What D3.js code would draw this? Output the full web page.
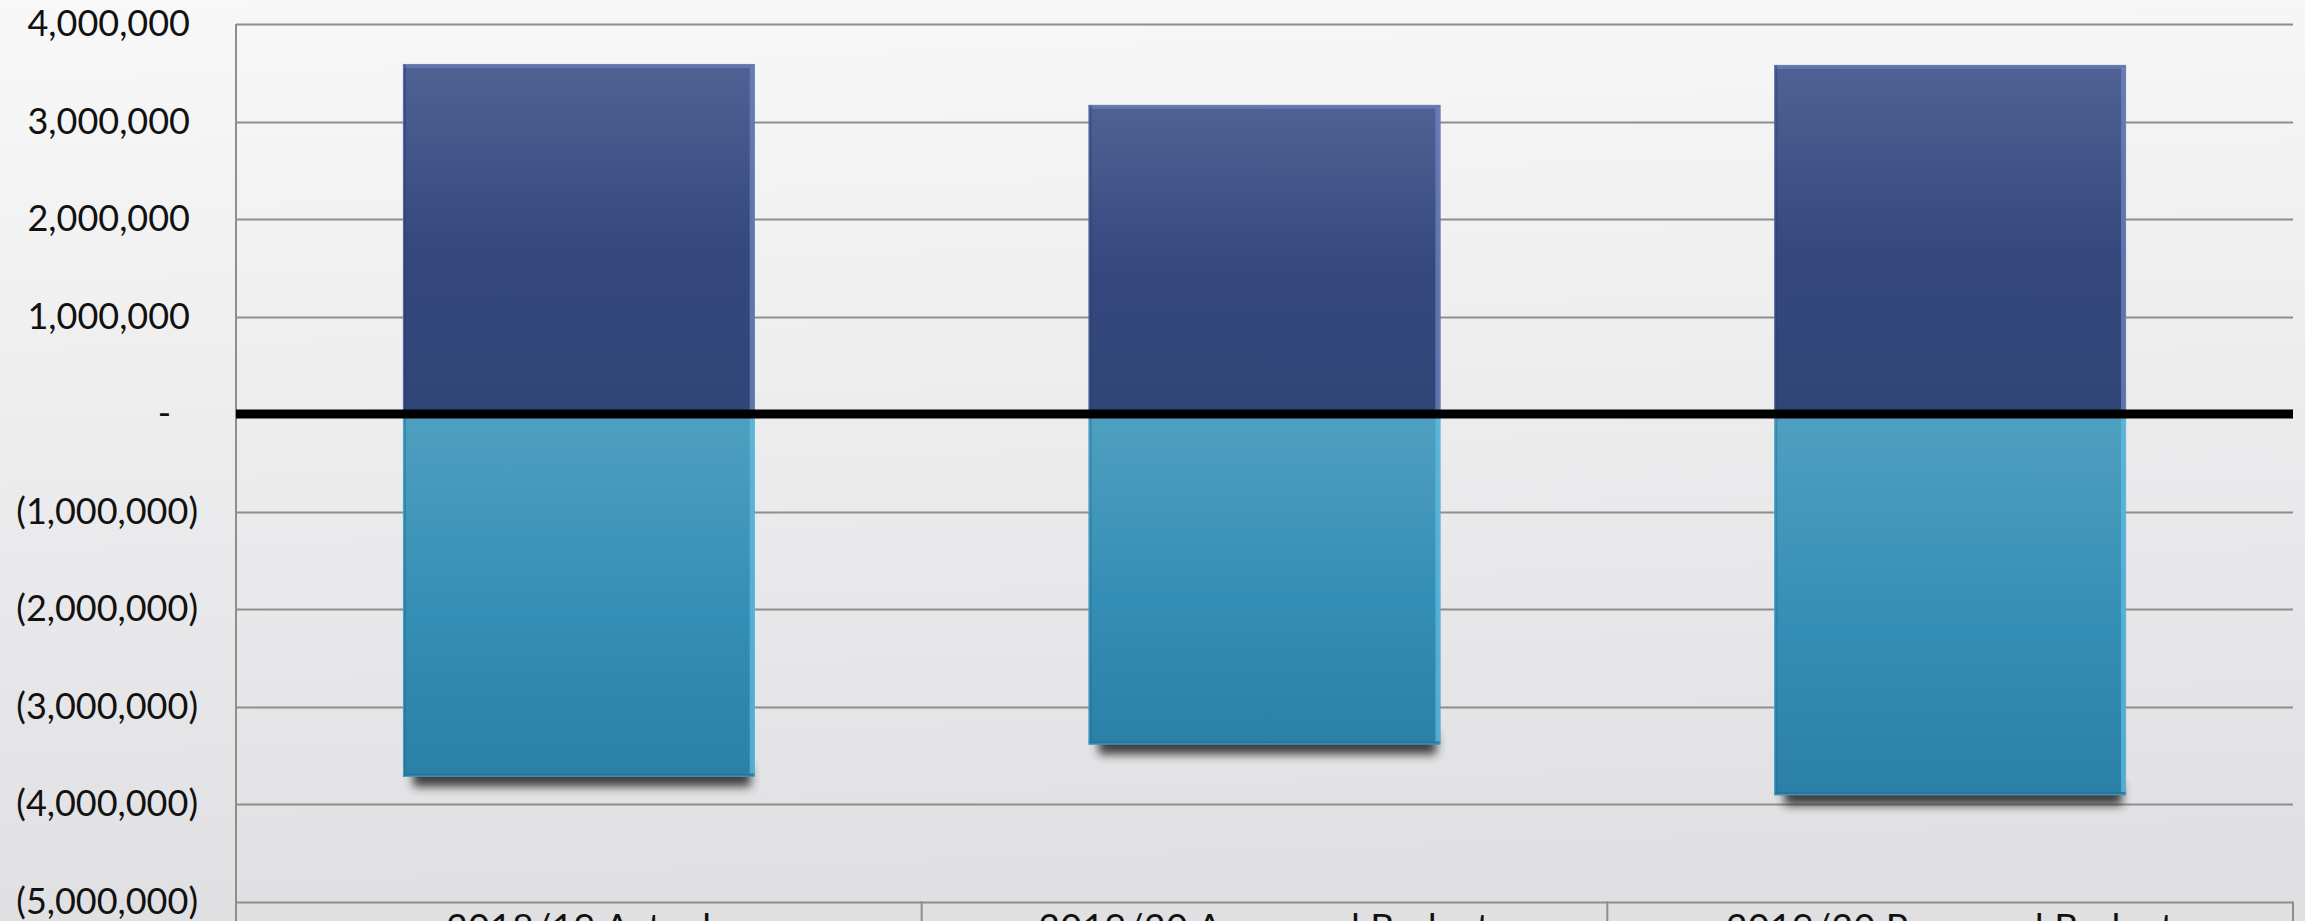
<!DOCTYPE html>
<html>
<head>
<meta charset="utf-8">
<script src="https://cdn.jsdelivr.net/npm/d3@7"></script>
<style>
  html, body { margin: 0; padding: 0; overflow: hidden; }
  svg { display: block; }
</style>
</head>
<body>
<script>
// chart values
var categories = ["2018/19 Actual", "2019/20 Approved Budget", "2019/20 Proposed Budget"];
var positiveValues = [3590000, 3170000, 3580000];
var negativeValues = [-3720000, -3390000, -3910000];
var yTicks = [4000000, 3000000, 2000000, 1000000, 0, -1000000, -2000000, -3000000, -4000000, -5000000];

var W = 2305, H = 921;
var margin = {left: 236, right: 12, top: 24, bottom: 20};

var svg = d3.select("body").append("svg")
    .attr("width", W)
    .attr("height", H);

var defs = svg.append("defs");

var bg = defs.append("linearGradient").attr("id", "bg")
    .attr("x1", "0").attr("y1", "0").attr("x2", "0.08").attr("y2", "1");
bg.append("stop").attr("offset", "0%").attr("stop-color", "#f8f8f8");
bg.append("stop").attr("offset", "100%").attr("stop-color", "#e0e0e3");

var gPos = defs.append("linearGradient").attr("id", "gPos")
    .attr("x1", 0).attr("y1", 0).attr("x2", 0).attr("y2", 1);
gPos.append("stop").attr("offset", "0%").attr("stop-color", "#506194");
gPos.append("stop").attr("offset", "55%").attr("stop-color", "#34487e");
gPos.append("stop").attr("offset", "100%").attr("stop-color", "#304577");

var gNeg = defs.append("linearGradient").attr("id", "gNeg")
    .attr("x1", 0).attr("y1", 0).attr("x2", 0).attr("y2", 1);
gNeg.append("stop").attr("offset", "0%").attr("stop-color", "#4fa0c0");
gNeg.append("stop").attr("offset", "55%").attr("stop-color", "#358eb5");
gNeg.append("stop").attr("offset", "100%").attr("stop-color", "#2b80a7");

var blur = defs.append("filter").attr("id", "shadow")
    .attr("x", "-10%").attr("y", "-60%").attr("width", "120%").attr("height", "220%");
blur.append("feGaussianBlur").attr("stdDeviation", 5);

svg.append("rect").attr("width", W).attr("height", H).attr("fill", "url(#bg)");

var x = d3.scaleBand()
    .domain(categories)
    .range([margin.left, W - margin.right])
    .paddingInner(0.487)
    .paddingOuter(0.2435);

var y = d3.scaleLinear()
    .domain([-5000000, 4000000])
    .range([901.5, margin.top]);

var step = x.step();

// grid lines
svg.append("g")
  .selectAll("line")
  .data(yTicks)
  .join("line")
    .attr("x1", margin.left)
    .attr("x2", W - margin.right)
    .attr("y1", function(d) { return Math.round(y(d)) + 0.5; })
    .attr("y2", function(d) { return Math.round(y(d)) + 0.5; })
    .attr("stroke", "#8e8e8e")
    .attr("stroke-width", 2);

// left axis line
svg.append("line")
    .attr("x1", margin.left).attr("x2", margin.left)
    .attr("y1", margin.top).attr("y2", H)
    .attr("stroke", "#8e8e8e").attr("stroke-width", 2);

// category separators below the bottom line
svg.append("g")
  .selectAll("line")
  .data(categories)
  .join("line")
    .attr("x1", function(d) { return x(d) + x.bandwidth() / 2 + step / 2; })
    .attr("x2", function(d) { return x(d) + x.bandwidth() / 2 + step / 2; })
    .attr("y1", y(-5000000))
    .attr("y2", H)
    .attr("stroke", "#8e8e8e").attr("stroke-width", 2);

// y axis labels
var fmt = d3.format(",");
svg.append("g")
  .selectAll("text")
  .data(yTicks)
  .join("text")
    .attr("x", 198)
    .attr("y", function(d) { return y(d); })
    .attr("dx", function(d) { return d > 0 ? -8 : (d === 0 ? -27 : 0); })
    .attr("dy", "0.34em")
    .attr("text-anchor", "end")
    .attr("font-family", "Lato, 'DejaVu Sans', sans-serif")
    .attr("font-size", 36)
    .attr("fill", "#111")
    .text(function(d) {
      if (d === 0) return "-";
      return d < 0 ? "(" + fmt(-d) + ")" : fmt(d);
    });

// shadows under negative bars
svg.append("g")
  .selectAll("rect")
  .data(negativeValues)
  .join("rect")
    .attr("x", function(d, i) { return x(categories[i]) + 10; })
    .attr("y", function(d) { return y(d) - 12; })
    .attr("width", x.bandwidth() - 14)
    .attr("height", 22)
    .attr("fill", "#2e2e2e")
    .attr("opacity", 0.9)
    .attr("filter", "url(#shadow)");

function drawBars(vals, fill, light, dark) {
  var g = svg.append("g")
    .selectAll("g")
    .data(vals)
    .join("g");
  g.append("rect")
    .attr("x", function(d, i) { return x(categories[i]); })
    .attr("y", function(d) { return y(Math.max(d, 0)); })
    .attr("width", x.bandwidth())
    .attr("height", function(d) { return Math.abs(y(d) - y(0)); })
    .attr("fill", fill);
  // bevel: light right edge
  g.append("rect")
    .attr("x", function(d, i) { return x(categories[i]) + x.bandwidth() - 5; })
    .attr("y", function(d) { return y(Math.max(d, 0)) + 3; })
    .attr("width", 5)
    .attr("height", function(d) { return Math.abs(y(d) - y(0)) - 6; })
    .attr("fill", light)
    .attr("opacity", 0.7);
  // bevel: top highlight
  g.append("rect")
    .attr("x", function(d, i) { return x(categories[i]); })
    .attr("y", function(d) { return y(Math.max(d, 0)); })
    .attr("width", x.bandwidth())
    .attr("height", 4)
    .attr("fill", light)
    .attr("opacity", 0.55);
  // bevel: left/bottom darker edge
  g.append("rect")
    .attr("x", function(d, i) { return x(categories[i]); })
    .attr("y", function(d) { return y(Math.max(d, 0)); })
    .attr("width", 3)
    .attr("height", function(d) { return Math.abs(y(d) - y(0)); })
    .attr("fill", dark)
    .attr("opacity", 0.4);
  g.append("rect")
    .attr("x", function(d, i) { return x(categories[i]); })
    .attr("y", function(d) { return y(Math.min(d, 0)) - 3; })
    .attr("width", x.bandwidth())
    .attr("height", 3)
    .attr("fill", dark)
    .attr("opacity", 0.5);
  g.append("rect")
    .attr("x", function(d, i) { return x(categories[i]) + 0.5; })
    .attr("y", function(d) { return y(Math.max(d, 0)) + 0.5; })
    .attr("width", x.bandwidth() - 1)
    .attr("height", function(d) { return Math.abs(y(d) - y(0)) - 1; })
    .attr("fill", "none")
    .attr("stroke", light)
    .attr("stroke-opacity", 0.6);
}

drawBars(negativeValues, "url(#gNeg)", "#63bde3", "#1f6a8e");
drawBars(positiveValues, "url(#gPos)", "#7088c2", "#26386a");

// zero line
svg.append("line")
    .attr("x1", margin.left)
    .attr("x2", W - margin.right)
    .attr("y1", y(0))
    .attr("y2", y(0))
    .attr("stroke", "#000")
    .attr("stroke-width", 9);

// category labels (cut off at the bottom edge, as in the reference)
svg.append("g")
  .selectAll("text")
  .data(categories)
  .join("text")
    .attr("x", function(d) { return x(d) + x.bandwidth() / 2; })
    .attr("y", 940)
    .attr("text-anchor", "middle")
    .attr("font-family", "Lato, 'DejaVu Sans', sans-serif")
    .attr("font-size", 37)
    .attr("letter-spacing", 0.6)
    .attr("fill", "#111")
    .text(function(d) { return d; });
</script>
</body>
</html>
